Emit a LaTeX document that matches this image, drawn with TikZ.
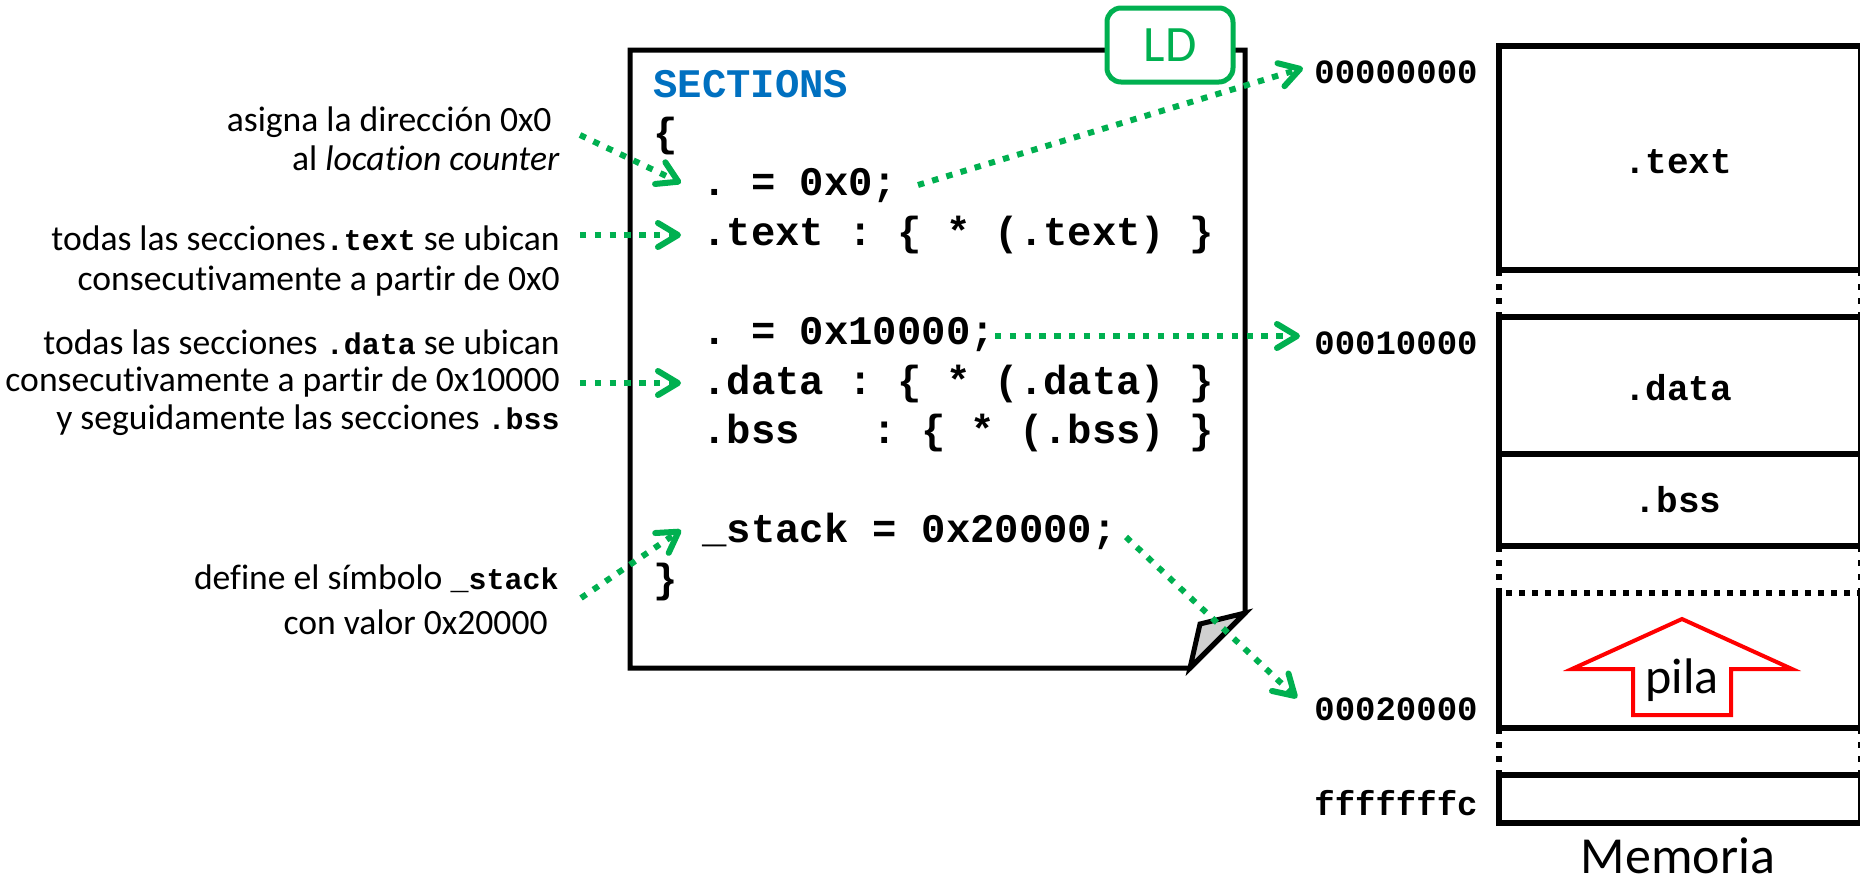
\documentclass[tikz,border=0pt]{standalone}
\usepackage{fontspec}
\setmainfont{Carlito}[Ligatures={NoCommon}]
\newfontfamily\cf{Liberation Mono}
\usetikzlibrary{arrows.meta}
\definecolor{lgreen}{HTML}{00B050}
\definecolor{lblue}{HTML}{0070C0}
\definecolor{lred}{HTML}{FF0000}
\definecolor{foldgray}{HTML}{D0D0D0}
\tikzset{
  lbl/.style={font=\fontsize{17.8}{21}\selectfont, inner sep=0pt, anchor=base east},
  codetxt/.style={font=\cf\bfseries\fontsize{20.3}{24}\selectfont, inner sep=0pt, anchor=base west},
  addr/.style={font=\cf\bfseries\fontsize{17}{20}\selectfont, inner sep=0pt, anchor=east},
  memlbl/.style={font=\cf\bfseries\fontsize{18}{22}\selectfont, inner sep=0pt},
  garrow/.style={draw=lgreen, line width=3pt, dash pattern=on 3.2pt off 4.2pt,
    -{Straight Barb[length=10pt,width=12pt,line cap=round,line join=round]}},
  memline/.style={line width=3pt},
  memdots/.style={line width=3pt, dash pattern=on 3.2pt off 3.8pt},
  docline/.style={line width=2.5pt, line join=miter},
}
\newcommand{\mc}[1]{{\cf\bfseries\fontsize{15}{18}\selectfont #1}}
\begin{document}
\begin{tikzpicture}[x=0.5pt,y=-0.5pt]
\useasboundingbox (0,0) rectangle (1860,884);

% ---------- document (linker script) ----------
\draw[docline, fill=white] (630,50) -- (1245,50) -- (1245,613) -- (1190,668) -- (630,668) -- cycle;
\draw[docline, fill=foldgray] (1245,613) -- (1200,624) -- (1190,668) -- cycle;
\node[draw=lgreen, line width=2.5pt, rounded corners=7pt, fill=white, text=lgreen,
  minimum width=63pt, minimum height=37pt, inner sep=0pt,
  font=\fontsize{25.5}{28}\selectfont] (ld) at (1170,45) {LD};

% code lines
\node[codetxt, text=lblue] (sec) at (653,97) {SECTIONS};
\node[codetxt] (lb) at (653,146) {\{};
\node[codetxt] (c1) at (702,195) {.~=~0x0;};
\node[codetxt] (c2) at (702,245) {.text~:~\{~*~(.text)~\}};
\node[codetxt] (c3) at (702,344) {.~=~0x10000;};
\node[codetxt] (c4) at (702,394) {.data~:~\{~*~(.data)~\}};
\node[codetxt] (c5) at (702,443) {.bss~~~:~\{~*~(.bss)~\}};
\node[codetxt] (c6) at (702,542) {\_stack~=~0x20000;};
\node[codetxt] (rb) at (653,592) {\}};

% ---------- left labels ----------
\node[lbl] (l1a) at (552,131) {asigna la dirección 0x0};
\node[lbl] (l1b) at (560,170) {al \textit{location counter}};
\node[lbl] (l2a) at (560,250) {todas las secciones\mc{.text} se ubican};
\node[lbl] (l2b) at (560,290) {consecutivamente a partir de 0x0};
\node[lbl] (l3a) at (560,354) {todas las secciones \mc{.data} se ubican};
\node[lbl] (l3b) at (560,391) {consecutivamente a partir de 0x10000};
\node[lbl] (l3c) at (560,429) {y seguidamente las secciones \mc{.bss}};
\node[lbl] (l4a) at (559,589) {define el símbolo \mc{\_stack}};
\node[lbl] (l4b) at (548,634) {con valor 0x20000};

% ---------- memory ----------
\draw[memline] (1499,46) rectangle (1861,270);
\draw[memdots] (1499,270) -- (1499,317);
\draw[memdots] (1861,270) -- (1861,317);
\draw[memline] (1499,317) rectangle (1861,546);
\draw[memline] (1499,454) -- (1861,454);
\draw[memdots] (1499,546) -- (1499,588);
\draw[memdots] (1861,546) -- (1861,588);
\draw[memline] (1499,588) -- (1499,728) -- (1861,728) -- (1861,588);
\draw[line width=3pt, dash pattern=on 3pt off 3.5pt] (1506,593) -- (1861,593);
\draw[memdots] (1499,728) -- (1499,775);
\draw[memdots] (1861,728) -- (1861,775);
\draw[memline] (1499,775) rectangle (1861,823);

\node[memlbl] (mtext) at (1678,162) {.text};
\node[memlbl] (mdata) at (1678,388) {.data};
\node[memlbl] (mbss) at (1678,500) {.bss};

\draw[lred, line width=2pt, line join=miter] (1682,619) -- (1792,669) -- (1731,669) -- (1731,715)
  -- (1633,715) -- (1633,669) -- (1572,669) -- cycle;
\node[font=\fontsize{25}{28}\selectfont, inner sep=0pt] (pila) at (1682,680) {pila};

\node[addr] (a0) at (1478,72) {00000000};
\node[addr] (a1) at (1478,343) {00010000};
\node[addr] (a2) at (1478,709) {00020000};
\node[addr] (a3) at (1478,803) {fffffffc};

\node[font=\fontsize{26}{30}\selectfont, inner sep=0pt, anchor=base] (mem) at (1678,873) {Memoria};

% ---------- arrows ----------
\coordinate (s1) at (580,135);  \coordinate (e1) at (681,183);
\coordinate (s2) at (580,235);  \coordinate (e2) at (681,235);
\coordinate (s3) at (580,383);  \coordinate (e3) at (681,383);
\coordinate (s4) at (581,598);  \coordinate (e4) at (681,530);
\coordinate (s5) at (918,185);  \coordinate (e5) at (1303,68);
\coordinate (s6) at (995,336);  \coordinate (e6) at (1300,336);
\coordinate (s7) at (1126,537); \coordinate (e7) at (1297,698);
\draw[garrow] (s1) -- (e1);
\draw[garrow] (s2) -- (e2);
\draw[garrow] (s3) -- (e3);
\draw[garrow] (s4) -- (e4);
\draw[garrow] (s5) -- (e5);
\draw[garrow] (s6) -- (e6);
\draw[garrow] (s7) -- (e7);
\end{tikzpicture}
\end{document}
